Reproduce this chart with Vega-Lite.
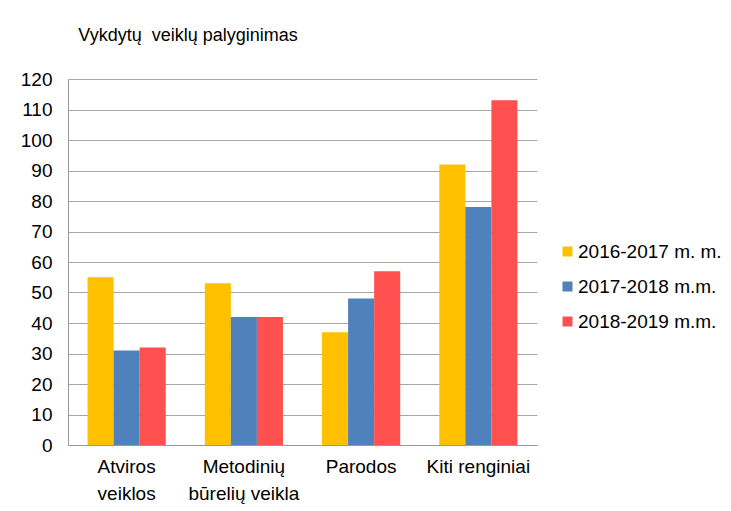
{
  "$schema": "https://vega.github.io/schema/vega-lite/v6.json",
  "width": 469,
  "height": 366,
  "autosize": {"type": "none"},
  "padding": {"left": 68, "top": 79, "right": 194, "bottom": 66},
  "background": "white",
  "title": {
    "text": "Vykdytų\u00a0 veiklų palyginimas",
    "anchor": "start",
    "dx": 58,
    "offset": 25,
    "font": "Liberation Sans",
    "fontSize": 18,
    "fontWeight": "normal",
    "color": "#000000"
  },
  "data": {
    "values": [
      {"category": "Atviros|veiklos", "series": "2016-2017 m. m.", "value": 55},
      {"category": "Atviros|veiklos", "series": "2017-2018 m.m.", "value": 31},
      {"category": "Atviros|veiklos", "series": "2018-2019 m.m.", "value": 32},
      {"category": "Metodinių|būrelių veikla", "series": "2016-2017 m. m.", "value": 53},
      {"category": "Metodinių|būrelių veikla", "series": "2017-2018 m.m.", "value": 42},
      {"category": "Metodinių|būrelių veikla", "series": "2018-2019 m.m.", "value": 42},
      {"category": "Parodos", "series": "2016-2017 m. m.", "value": 37},
      {"category": "Parodos", "series": "2017-2018 m.m.", "value": 48},
      {"category": "Parodos", "series": "2018-2019 m.m.", "value": 57},
      {"category": "Kiti renginiai", "series": "2016-2017 m. m.", "value": 92},
      {"category": "Kiti renginiai", "series": "2017-2018 m.m.", "value": 78},
      {"category": "Kiti renginiai", "series": "2018-2019 m.m.", "value": 113}
    ]
  },
  "mark": {"type": "bar"},
  "encoding": {
    "x": {
      "field": "category",
      "type": "nominal",
      "sort": null,
      "scale": {"paddingInner": 0.333, "paddingOuter": 0.1667},
      "axis": {
        "title": null,
        "labelAngle": 0,
        "labelExpr": "split(datum.label, '|')",
        "labelFont": "Liberation Sans",
        "labelFontSize": 19,
        "labelColor": "#000000",
        "labelLineHeight": 27,
        "labelPadding": 12,
        "ticks": false,
        "domainColor": "#999999",
        "labelBaseline": "top"
      }
    },
    "xOffset": {"field": "series", "type": "nominal", "sort": null},
    "y": {
      "field": "value",
      "type": "quantitative",
      "scale": {"domain": [0, 120], "nice": false},
      "axis": {
        "title": null,
        "values": [0, 10, 20, 30, 40, 50, 60, 70, 80, 90, 100, 110, 120],
        "labelFont": "Liberation Sans",
        "labelFontSize": 19,
        "labelColor": "#000000",
        "labelPadding": 16,
        "ticks": false,
        "domain": true,
        "domainColor": "#999999",
        "grid": true,
        "gridColor": "#a6a6a6",
        "gridWidth": 1
      }
    },
    "color": {
      "field": "series",
      "type": "nominal",
      "sort": null,
      "scale": {
        "domain": ["2016-2017 m. m.", "2017-2018 m.m.", "2018-2019 m.m."],
        "range": ["#FFC000", "#4F81BD", "#FF5050"]
      },
      "legend": {
        "title": null,
        "orient": "none",
        "legendX": 490,
        "legendY": 163,
        "symbolType": "square",
        "symbolSize": 100,
        "symbolStrokeWidth": 0,
        "labelFont": "Liberation Sans",
        "labelFontSize": 19,
        "labelColor": "#000000",
        "labelOffset": 1,
        "rowPadding": 15
      }
    }
  },
  "config": {
    "view": {"stroke": null}
  }
}
